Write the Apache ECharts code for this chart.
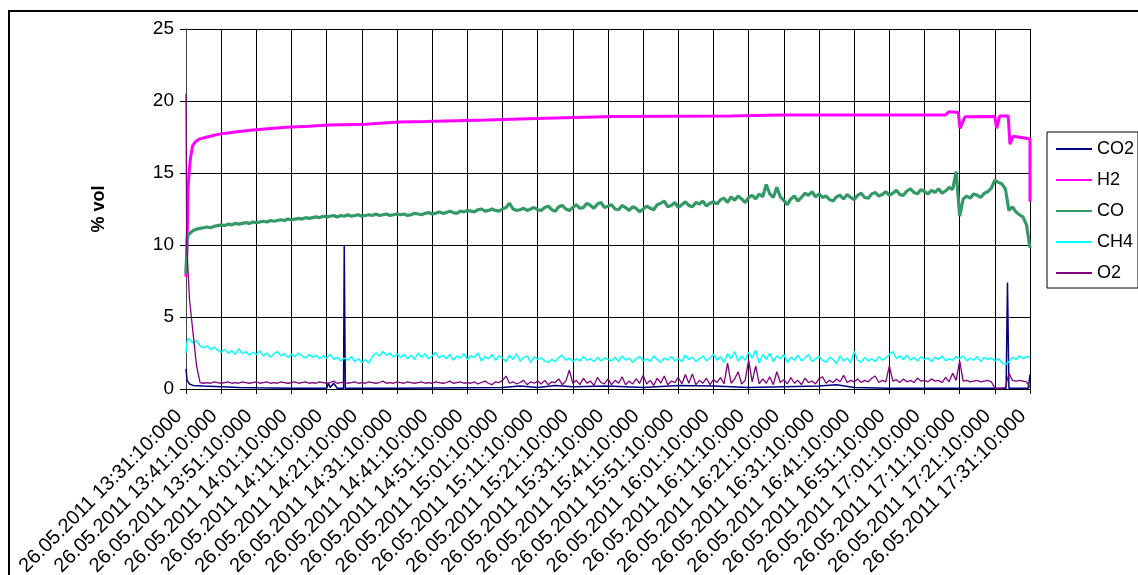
<!DOCTYPE html>
<html>
<head>
<meta charset="utf-8">
<script src="https://cdn.jsdelivr.net/npm/echarts@6/dist/echarts.min.js"></script>
<style>
html,body{margin:0;padding:0;background:#fff;}
#chart{width:1138px;height:575px;}
</style>
</head>
<body>
<div id="chart"></div>
<script>
// Time axis: minutes after 26.05.2011 13:31:10
const tickLabels = [
  "26.05.2011 13:31:10:000","26.05.2011 13:41:10:000","26.05.2011 13:51:10:000",
  "26.05.2011 14:01:10:000","26.05.2011 14:11:10:000","26.05.2011 14:21:10:000",
  "26.05.2011 14:31:10:000","26.05.2011 14:41:10:000","26.05.2011 14:51:10:000",
  "26.05.2011 15:01:10:000","26.05.2011 15:11:10:000","26.05.2011 15:21:10:000",
  "26.05.2011 15:31:10:000","26.05.2011 15:41:10:000","26.05.2011 15:51:10:000",
  "26.05.2011 16:01:10:000","26.05.2011 16:11:10:000","26.05.2011 16:21:10:000",
  "26.05.2011 16:31:10:000","26.05.2011 16:41:10:000","26.05.2011 16:51:10:000",
  "26.05.2011 17:01:10:000","26.05.2011 17:11:10:000","26.05.2011 17:21:10:000",
  "26.05.2011 17:31:10:000"
];
const seriesNames = ["CO2","H2","CO","CH4","O2"];

// [minute, % vol]
const co2Points = [[0,1.4],[0.3,0.6],[1,0.35],[2,0.25],[5,0.2],[10,0.15],[15,0.1],[20,0.08],[30,0.05],[40,0.05],
  [40.5,0.4],[41,0.1],[42,0.4],[43,0.05],[44.8,0.05],[45,10.0],[45.3,0.05],[60,0.05],[90,0.1],[95,0.2],[100,0.1],
  [105,0.25],[110,0.15],[120,0.2],[130,0.1],[140,0.25],[150,0.2],[160,0.1],[170,0.15],[180,0.2],[185,0.3],[190,0.1],
  [200,0.05],[233.2,0.05],[233.6,7.4],[234,0.05],[239.5,0.05],[240,1.0]];

const h2Points = [[0,7.8],[0.3,10],[0.6,14.0],[0.94,15.2],[1.3,16.1],[1.9,16.9],[2.6,17.15],[3.7,17.35],[6,17.5],
  [9.4,17.7],[14,17.85],[19,17.98],[28.4,18.17],[35,18.25],[40.7,18.33],[51,18.38],[51.3,18.47],[60.6,18.55],
  [68,18.57],[68.3,18.63],[85.5,18.68],[85.8,18.74],[99.7,18.78],[100,18.83],[121.4,18.93],[154.7,18.95],
  [155,19.0],[169.4,19.02],[215.8,19.02],[217,19.25],[219.6,19.2],[220.1,18.1],[221.5,18.9],[230,18.92],
  [230.5,18.1],[231.4,18.95],[233.8,18.95],[234.3,17.0],[235.2,17.55],[238,17.45],[240,17.36],[240,13.0]];

// first samples (before minute 1), then one value per minute from minute 1 to 240
const coHead = [[0,8.0],[0.3,10.3],[0.6,10.7]];
const coValues = [
  10.8,11.0,11.1,11.15,11.2,11.25,11.2,11.3,11.35,11.4,
  11.35,11.45,11.4,11.5,11.45,11.5,11.55,11.5,11.6,11.55,
  11.6,11.65,11.6,11.7,11.65,11.7,11.75,11.7,11.8,11.75,
  11.8,11.85,11.8,11.9,11.85,11.9,11.95,11.9,12.0,11.95,
  12.0,12.05,11.95,12.05,12.0,12.1,12.0,12.05,12.1,12.0,
  12.05,12.1,12.05,12.15,12.05,12.1,12.15,12.05,12.1,12.15,
  12.1,12.15,12.05,12.1,12.2,12.15,12.1,12.2,12.25,12.15,
  12.2,12.3,12.2,12.25,12.35,12.25,12.2,12.35,12.3,12.4,
  12.35,12.3,12.45,12.5,12.35,12.4,12.5,12.4,12.35,12.5,
  12.6,12.9,12.5,12.4,12.45,12.55,12.4,12.5,12.6,12.45,
  12.4,12.6,12.7,12.45,12.35,12.65,12.75,12.5,12.4,12.6,
  12.8,12.55,12.6,12.9,12.75,12.55,12.85,12.95,12.6,12.7,
  12.8,12.5,12.45,12.75,12.6,12.4,12.65,12.55,12.3,12.5,
  12.7,12.55,12.45,12.8,12.9,13.05,12.65,12.75,12.95,12.6,
  12.8,13.0,12.75,12.65,12.95,12.85,13.05,12.7,12.9,13.0,
  12.85,13.15,13.25,12.95,13.35,13.1,13.4,13.2,12.95,13.3,
  13.45,13.2,13.55,13.35,14.2,13.55,13.3,14.0,13.35,13.1,
  12.8,13.2,13.4,13.05,13.3,13.6,13.45,13.7,13.35,13.55,
  13.3,13.4,13.15,13.05,13.35,13.45,13.2,13.5,13.3,13.15,
  13.45,13.6,13.3,13.25,13.55,13.65,13.4,13.5,13.7,13.45,
  13.6,13.8,13.5,13.45,13.75,13.9,13.65,13.55,13.85,13.7,
  13.55,13.8,13.65,13.9,13.6,13.75,14.0,13.85,15.1,12.0,
  13.2,13.4,13.25,13.55,13.45,13.3,13.6,13.7,13.95,14.5,
  14.35,14.25,13.9,12.4,12.65,12.3,12.1,11.95,11.4,9.8
];

const ch4Head = [[0,2.5],[0.3,3.3],[0.6,3.5]];
const ch4Values = [
  3.4,3.2,3.35,3.0,2.85,3.0,2.75,2.9,2.7,2.55,
  2.75,2.5,2.65,2.4,2.8,2.45,2.6,2.35,2.55,2.4,
  2.65,2.3,2.5,2.2,2.45,2.6,2.3,2.45,2.2,2.4,
  2.25,2.5,2.3,2.15,2.4,2.2,2.35,2.1,2.3,2.15,
  2.4,2.05,2.2,1.95,2.15,2.0,2.25,1.9,2.1,1.85,
  2.05,1.8,2.25,2.5,2.3,2.6,2.35,2.5,2.2,2.45,
  2.2,2.4,2.1,2.35,2.05,2.5,2.2,2.45,2.1,2.3,
  2.55,2.15,2.35,2.1,2.4,2.0,2.3,2.15,2.45,2.05,
  2.3,2.2,2.5,1.95,2.25,2.1,2.4,2.0,2.3,2.15,
  1.9,2.35,2.05,2.45,1.95,2.2,2.3,1.85,2.25,2.05,
  2.15,1.95,1.85,2.05,1.9,2.2,2.35,2.0,2.15,1.9,
  2.1,1.95,2.25,2.0,2.1,1.9,2.2,1.95,2.15,2.05,
  1.95,2.2,1.9,2.3,2.0,2.15,1.85,2.1,2.25,1.95,
  2.1,1.9,2.3,2.05,1.85,2.15,2.0,2.25,1.95,2.1,
  1.9,2.35,2.05,2.2,1.9,2.1,2.3,1.95,2.15,2.4,
  2.0,2.25,1.85,2.45,2.1,2.6,1.95,2.3,2.0,2.55,
  2.15,2.7,1.8,2.4,2.05,2.5,1.9,2.3,2.1,2.4,
  1.85,2.2,2.0,2.35,1.95,2.15,2.4,1.9,2.1,2.25,
  2.0,1.85,2.2,2.05,1.75,2.3,1.95,2.15,1.8,2.6,
  2.0,1.85,2.2,1.95,2.1,1.9,2.25,2.0,2.15,2.4,
  2.6,2.1,2.3,2.05,2.35,2.0,2.2,1.95,2.25,2.05,
  2.15,1.9,2.2,2.05,2.3,1.95,2.1,2.0,2.25,2.1,
  2.3,1.95,2.15,2.0,2.25,1.9,2.2,2.05,2.15,1.95,
  2.1,1.85,1.7,1.9,2.2,2.05,2.3,2.1,2.25,2.2
];

const o2Head = [[0,20.5],[0.2,10.0]];
const o2Values = [
  6.2,3.9,1.6,0.45,0.4,0.45,0.4,0.5,0.45,0.4,
  0.45,0.5,0.4,0.45,0.4,0.5,0.45,0.4,0.45,0.5,
  0.4,0.45,0.5,0.4,0.45,0.4,0.5,0.45,0.4,0.45,
  0.5,0.4,0.45,0.5,0.4,0.45,0.4,0.5,0.45,0.4,
  0.45,0.55,0.4,0.45,0.5,0.4,0.45,0.5,0.4,0.45,
  0.4,0.5,0.45,0.4,0.45,0.55,0.4,0.45,0.4,0.5,
  0.45,0.4,0.5,0.45,0.4,0.45,0.5,0.4,0.45,0.4,
  0.5,0.45,0.4,0.45,0.55,0.4,0.45,0.5,0.4,0.45,
  0.4,0.5,0.35,0.45,0.55,0.4,0.3,0.5,0.45,0.6,
  0.9,0.4,0.5,0.35,0.45,0.6,0.3,0.5,0.4,0.55,
  0.35,0.6,0.3,0.5,0.45,0.7,0.3,0.55,1.3,0.4,
  0.6,0.3,0.75,0.4,0.55,0.25,0.8,0.45,0.35,0.7,
  0.3,0.6,0.4,0.85,0.3,0.55,0.35,0.7,0.4,0.95,
  0.35,0.6,0.25,0.75,0.4,0.9,0.3,0.55,0.45,0.8,
  0.35,1.0,0.4,1.05,0.3,0.6,0.4,0.75,0.3,0.65,
  0.45,0.8,0.35,1.8,0.4,0.7,1.2,0.35,0.6,2.0,
  0.5,1.6,0.35,0.7,0.4,0.85,0.3,1.2,0.45,0.65,
  0.35,0.8,0.4,0.6,0.3,0.75,0.45,0.55,0.35,0.7,
  0.85,0.4,0.6,0.45,0.7,0.5,0.95,0.45,0.6,0.5,
  0.7,0.45,0.6,0.5,0.75,0.9,0.45,0.6,0.5,1.6,
  0.55,0.65,0.45,0.7,0.5,0.6,0.45,0.75,0.55,0.6,
  0.5,0.7,0.55,0.6,0.45,0.8,0.5,1.1,0.6,1.95,
  0.55,0.6,0.5,0.55,0.6,0.5,0.55,0.6,0.5,0.05,
  0.05,0.05,0.1,1.1,0.6,0.55,0.6,0.55,0.5,0.1
];

function perMinute(head, values){
  return head.concat(values.map((v,i)=>[i+1, v]));
}

const colors = ["#000080","#FF00FF","#339966","#00FFFF","#800080"];
const widths = [1.5,3,3.2,1.5,1.3];
const dataSets = [co2Points, h2Points, perMinute(coHead,coValues), perMinute(ch4Head,ch4Values), perMinute(o2Head,o2Values)];

const font = "'Liberation Sans', Arial, sans-serif";
const chart = echarts.init(document.getElementById('chart'), null, {renderer:'canvas'});
chart.setOption({
  animation:false,
  backgroundColor:'#fff',
  textStyle:{fontFamily:font},
  graphic:[{type:'rect', shape:{x:9,y:11,width:1200,height:700}, style:{fill:'none',stroke:'#000',lineWidth:2}, silent:true, z:-1}],
  grid:{left:186, top:29, right:108, bottom:186, containLabel:false, outerBoundsMode:'none'},
  legend:{
    orient:'vertical', left:1047, top:132,
    data:seriesNames,
    itemWidth:36, itemHeight:14, itemGap:13,
    padding:[8,4,6,8],
    borderColor:'#000', borderWidth:1, borderRadius:0,
    itemStyle:{opacity:0},
    textStyle:{fontSize:18, color:'#000', fontFamily:font},
    selectedMode:false
  },
  xAxis:{
    type:'value', min:0, max:240, interval:10,
    axisLine:{show:true, onZero:false, lineStyle:{color:'#000', width:1}},
    axisTick:{show:true, inside:false, length:5, lineStyle:{color:'#000'}},
    splitLine:{show:true, lineStyle:{color:'#000', width:1}},
    axisLabel:{
      rotate:45, fontSize:20, color:'#000', margin:17, padding:[0,10,0,0], fontFamily:font,
      showMinLabel:true, showMaxLabel:true, hideOverlap:false,
      formatter:(v)=>tickLabels[Math.round(v/10)] || ''
    }
  },
  yAxis:{
    type:'value', min:0, max:25, interval:5,
    name:'% vol', nameLocation:'middle', nameRotate:90, nameGap:78,
    nameTextStyle:{fontSize:18, fontWeight:'bold', color:'#000', fontFamily:font},
    axisLine:{show:true, lineStyle:{color:'#444', width:1}},
    axisTick:{show:true, inside:false, length:6, lineStyle:{color:'#000'}},
    splitLine:{show:true, lineStyle:{color:'#000', width:1}},
    axisLabel:{fontSize:19, color:'#000', margin:12, fontFamily:font}
  },
  series: seriesNames.map((n,i)=>({
    name:n, type:'line', data:dataSets[i],
    symbol:'none', showSymbol:false,
    lineStyle:{color:colors[i], width:widths[i]},
    itemStyle:{color:colors[i]},
    color:colors[i]
  }))
});
</script>
</body>
</html>
